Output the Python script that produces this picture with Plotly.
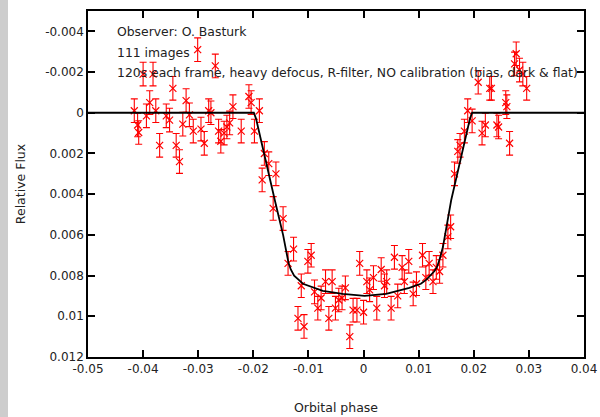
import plotly.graph_objects as go

# Observed points (orbital phase, relative flux)
phase = [
    -0.0416, -0.0410, -0.0408, -0.0400, -0.0394, -0.0388, -0.0382, -0.0377, -0.0370, -0.0358,
    -0.0352, -0.0346, -0.0340, -0.0334, -0.0328, -0.0322, -0.0316, -0.0309, -0.0301, -0.0295,
    -0.0289, -0.0281, -0.0277, -0.0269, -0.0263, -0.0259, -0.0253, -0.0248, -0.0243, -0.0237,
    -0.0222, -0.0208, -0.0204, -0.0198, -0.0189, -0.0180, -0.0172, -0.0184, -0.0159, -0.0164,
    -0.0146,
    -0.0137, -0.0127, -0.0113, -0.0119, -0.0108, -0.0101, -0.0095, -0.0089, -0.0083, -0.0077,
    -0.0069, -0.0063, -0.0057, -0.0051, -0.0045, -0.0039, -0.0033, -0.0025, -0.0019, -0.0012,
    -0.0007, 0.0000, 0.0006, 0.0011, 0.0018, 0.0024, 0.0032, 0.0038, 0.0042, 0.0050,
    0.0056, 0.0062, 0.0070, 0.0074, 0.0082, 0.0090, 0.0096, 0.0107, 0.0113, 0.0119,
    0.0126, 0.0132, 0.0138, 0.0144, 0.0153, 0.0158,
    0.0165, 0.0171, 0.0175, 0.0183, 0.0189, 0.0197, 0.0208, 0.0215, 0.0221, 0.0229,
    0.0232, 0.0242, 0.0245, 0.0258, 0.0260, 0.0265, 0.0274, 0.0277, 0.0283, 0.0289,
    0.0296,
]
flux = [
    -0.0001, 0.0006, 0.00097, -0.0019, 0.00015, -0.0005, -0.0019, -0.0001, 0.0016, 0.00015,
    0.00036, -0.0012, 0.0016, 0.0024, 0.00056, -0.0006, 0.0001, 0.0009, -0.0031, 0.0008,
    0.0015, -0.0001, 0.0, -0.0023, 0.0009, 0.0014, 0.0010, 0.0007, 0.0005, -0.0003,
    0.0009, -0.0008, -0.0005, 0.0009, -0.0001, 0.0020, 0.0025, 0.0033, 0.0030, 0.0047,
    0.0052,
    0.0074, 0.0067, 0.0085, 0.0101, 0.0105, 0.0073, 0.0070, 0.0088, 0.0096, 0.0091,
    0.0083, 0.0101, 0.0083, 0.0096, 0.0092, 0.0091, 0.0086, 0.0110, 0.0097, 0.0097,
    0.0074, 0.0098, 0.0083, 0.0087, 0.0081, 0.0096, 0.0077, 0.0085, 0.0083, 0.0096,
    0.0071, 0.0090, 0.0076, 0.0083, 0.0073, 0.0089, 0.0084, 0.0070, 0.0081, 0.0074,
    0.0083, 0.0076, 0.0078, 0.0070, 0.0061, 0.0056,
    0.0030, 0.0019, 0.0016, 0.0009, -0.0001, 0.0004, -0.0015, 0.0010, 0.0006, -0.0012,
    -0.0012, 0.0006, 0.0007, -0.0005, -0.0003, 0.0015, -0.0024, -0.0029, -0.0021, -0.0019,
    -0.0012,
]
flux_err = 0.00058

# Model light curve
model_phase = [-0.05, -0.0199, -0.0195, -0.0180, -0.0161, -0.0146, -0.0140, -0.0136, -0.0132,
               -0.0126, -0.0118, -0.0110, -0.0074, -0.0038, 0.0002, 0.0041, 0.0083, 0.0104,
               0.0114, 0.0122, 0.0128, 0.0133, 0.0138, 0.0144, 0.0159, 0.0193, 0.0197, 0.04]
model_flux = [0.0, 0.0, 0.0003, 0.0021, 0.0043, 0.0060, 0.0068, 0.0074, 0.0077,
              0.0080, 0.0082, 0.0084, 0.00875, 0.0089, 0.0090, 0.0089, 0.0086, 0.0084,
              0.0082, 0.0080, 0.0078, 0.0076, 0.0072, 0.0066, 0.0043, 0.0003, 0.0, 0.0]

x_ticks = [-0.05, -0.04, -0.03, -0.02, -0.01, 0, 0.01, 0.02, 0.03, 0.04]
x_tick_text = ["-0.05", "-0.04", "-0.03", "-0.02", "-0.01", "0", "0.01", "0.02", "0.03", "0.04"]
y_ticks = [-0.004, -0.002, 0, 0.002, 0.004, 0.006, 0.008, 0.01, 0.012]
y_tick_text = ["-0.004", "-0.002", "0", "0.002", "0.004", "0.006", "0.008", "0.01", "0.012"]

notes = ["Observer: O. Basturk", "111 images",
         "120s each frame, heavy defocus, R-filter, NO calibration (bias, dark & flat)"]

FONT = "DejaVu Sans"
TXT = "#222222"

fig = go.Figure()
fig.add_trace(go.Scatter(
    x=phase, y=flux, mode="markers",
    marker=dict(symbol="x-thin", size=7, color="#ff0000", line=dict(color="#ff0000", width=1.2)),
    error_y=dict(type="constant", value=flux_err, color="#ff0000", thickness=1.1, width=3.5),
    showlegend=False, hoverinfo="skip",
))
fig.add_trace(go.Scatter(
    x=model_phase, y=model_flux, mode="lines",
    line=dict(color="black", width=1.8),
    showlegend=False, hoverinfo="skip",
))

axis_common = dict(
    showgrid=False, zeroline=False, showline=True, linecolor="black", linewidth=1.5,
    mirror="ticks", ticks="inside", ticklen=7, tickwidth=1.5, tickcolor="black",
    tickfont=dict(family=FONT, size=12, color=TXT), automargin=False,
)
fig.update_xaxes(range=[-0.05, 0.04], tickvals=x_ticks, ticktext=x_tick_text,
                 title=dict(text="Orbital phase", font=dict(family=FONT, size=12.5, color=TXT),
                            standoff=28),
                 **axis_common)
fig.update_yaxes(range=[0.012, -0.005], tickvals=y_ticks, ticktext=y_tick_text,
                 title=dict(text="Relative Flux", font=dict(family=FONT, size=12.5, color=TXT),
                            standoff=17),
                 **axis_common)

for i, t in enumerate(notes):
    fig.add_annotation(x=-0.0451, y=-0.0040 + i * 0.00102, xref="x", yref="y", text=t,
                       showarrow=False, xanchor="left", yanchor="middle",
                       font=dict(family=FONT, size=12.4, color=TXT))

# textured grey strip at left edge of the original image
fig.add_shape(type="rect", xref="paper", yref="paper", x0=-88 / 496, x1=-80 / 496,
              y0=-60 / 346, y1=1 + 11 / 346, fillcolor="#cdcdcd", line=dict(width=0), layer="below")

fig.update_layout(
    width=600, height=417, margin=dict(l=88, r=16, t=11, b=60),
    paper_bgcolor="white", plot_bgcolor="white",
)
fig.write_html("out.html")
